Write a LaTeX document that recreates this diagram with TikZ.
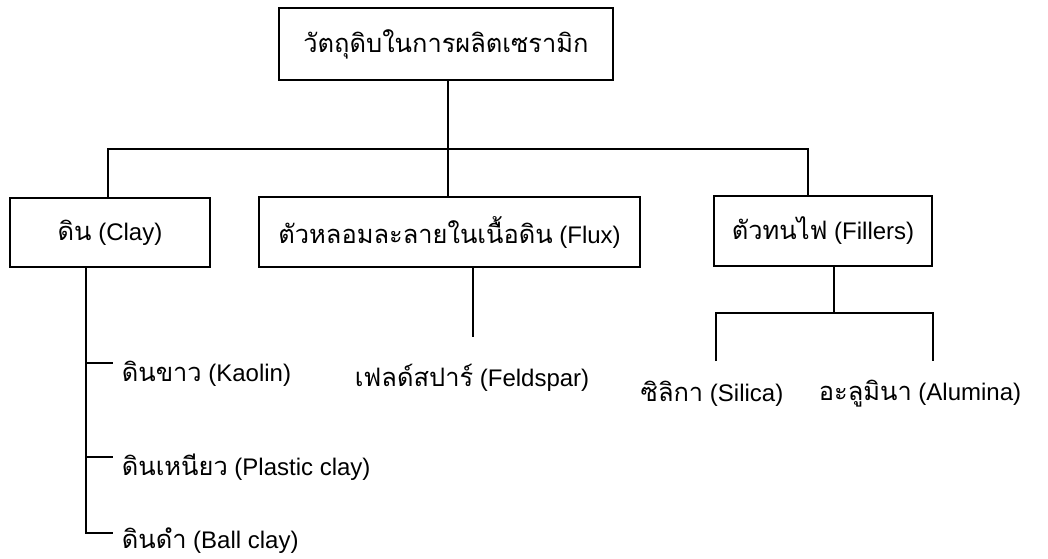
\documentclass[tikz,border=0pt]{standalone}
\usepackage{fontspec}
\setmainfont{Liberation Sans}
\newfontfamily\tf[Script=Thai,Scale=1.06]{Loma}
\begin{document}
\begin{tikzpicture}[x=1pt,y=-1pt,line width=1.7pt,
  box/.style={draw,rectangle,inner sep=0pt,font=\fontsize{24}{28}\selectfont},
  lbl/.style={inner sep=0pt,font=\fontsize{24}{28}\selectfont}]
\useasboundingbox (0,0) rectangle (1048,558);
% boxes
\node[box,minimum width=334pt,minimum height=72pt] (top) at (446,44) {\tf วัตถุดิบในการผลิตเซรามิก};
\node[box,minimum width=200pt,minimum height=69pt] (clay) at (110,232.5) {{\tf ดิน} (Clay)};
\node[box,minimum width=381pt,minimum height=70pt] (flux) at (449.5,232) {{\tf ตัวหลอมละลายในเนื้อดิน} (Flux)};
\node[box,minimum width=218pt,minimum height=70pt] (fill) at (823,231) {{\tf ตัวทนไฟ} (Fillers)};
% leaf labels
\node[lbl,anchor=west] (kaolin) at (121,374) {{\tf ดินขาว} (Kaolin)};
\node[lbl,anchor=west] (plastic) at (121,467) {{\tf ดินเหนียว} (Plastic clay)};
\node[lbl,anchor=west] (ball) at (121,541) {{\tf ดินดำ} (Ball clay)};
\node[lbl] (feld) at (472,378) {{\tf เฟลด์สปาร์} (Feldspar)};
\node[lbl] (silica) at (712,394) {{\tf ซิลิกา} (Silica)};
\node[lbl] (alumina) at (920,394) {{\tf อะลูมินา} (Alumina)};
% coordinates
\coordinate (busL) at (108,149);
\coordinate (busR) at (808,149);
\coordinate (cv) at (86,267);
\coordinate (t1) at (113,363);
\coordinate (t2) at (113,457);
\coordinate (t3) at (113,533);
\coordinate (fe) at (473,337);
\coordinate (fv) at (834,313);
\coordinate (sL) at (716,361);
\coordinate (sR) at (933,361);
% connectors
\draw ([xshift=2pt]top.south) -- ([xshift=2pt]top.south |- flux.north);
\draw (busL |- clay.north) -- (busL) -- (busR) -- (busR |- fill.north);
\draw (cv |- clay.south) |- (t3);
\draw (t1 -| cv) -- (t1);
\draw (t2 -| cv) -- (t2);
\draw (fe |- flux.south) -- (fe);
\draw (fv |- fill.south) -- (fv);
\draw (sL) |- (fv) -| (sR);
\end{tikzpicture}
\end{document}
